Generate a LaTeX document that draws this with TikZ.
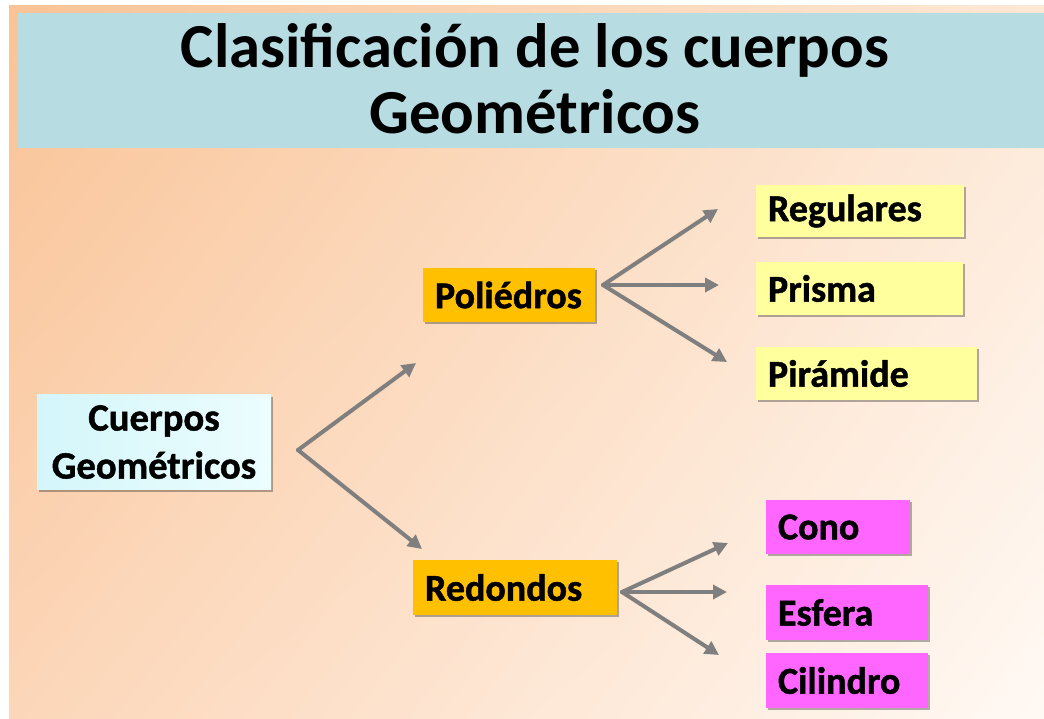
\documentclass[tikz,border=0pt]{standalone}
\usepackage{fontspec}
\setmainfont{Carlito}
\newfontfamily\boxfont{Carlito}[BoldFeatures={FakeBold=1.2}]
\usetikzlibrary{arrows.meta,shadows,shadings}
\definecolor{bandblue}{RGB}{183,221,226}
\definecolor{bgA}{RGB}{249,195,150}
\definecolor{bgB}{RGB}{253,232,214}
\definecolor{bgC}{RGB}{252,214,184}
\definecolor{bgD}{RGB}{255,249,244}
\definecolor{gold}{RGB}{255,192,0}
\definecolor{paleyellow}{RGB}{255,255,158}
\definecolor{pinkbox}{RGB}{255,102,255}
\definecolor{cyanA}{RGB}{212,246,250}
\definecolor{cyanB}{RGB}{236,253,254}
\definecolor{arrgray}{RGB}{127,127,127}
\begin{document}
\begin{tikzpicture}[x=0.75pt,y=-0.75pt,
  box/.style={inner xsep=9pt, inner ysep=0pt, align=left,
    font=\boxfont\fontsize{28.5}{34}\selectfont\bfseries,
    drop shadow={shadow xshift=1.2pt, shadow yshift=-1.5pt, opacity=0.3, fill=black}},
  goldbox/.style={box, fill=gold},
  yelbox/.style={box, fill=paleyellow},
  pinkstyle/.style={box, fill=pinkbox},
  titletext/.style={font=\fontsize{47}{56}\selectfont\bfseries, anchor=base, inner sep=0pt},
  arr/.style={draw=arrgray, line width=3pt, line cap=round,
    -{Triangle[length=10.5pt,width=10.5pt]}},
]
\useasboundingbox (0,0) rectangle (1044,718);
\fill[white] (0,0) rectangle (1044,718);
\shade[upper left=bgA, upper right=bgB, lower left=bgC, lower right=bgD]
  (9,5) rectangle (1044,718);
\fill[bandblue] (18,13) rectangle (1044,148);
\node[titletext] (titleA) at (535,67) {Clasificación de los cuerpos};
\node[titletext] (titleB) at (535,133) {Geométricos};

\node[box, align=center, left color=cyanA, right color=cyanB,
  text width=157.5pt, minimum height=71.25pt,
  font=\boxfont\fontsize{29}{36}\selectfont\bfseries] (cuerpos) at (154,442)
  {Cuerpos\\Geométricos};

\node[goldbox, text width=111pt, minimum height=40.5pt] (poli) at (509,295) {Poliédros};
\node[goldbox, text width=135pt, minimum height=41.25pt] (redo) at (515,587.5) {Redondos};

\node[yelbox, text width=138pt, minimum height=39pt] (regu) at (860,211) {Regulares};
\node[yelbox, text width=137.25pt, minimum height=39.75pt] (pris) at (859.5,288.5) {Prisma};
\node[yelbox, text width=147.75pt, minimum height=39.75pt] (pira) at (866.5,373.5) {Pirámide};

\node[pinkstyle, text width=90pt, minimum height=40.5pt] (cono) at (838,527) {Cono};
\node[pinkstyle, text width=103.5pt, minimum height=41.25pt] (esfe) at (847,612.5) {Esfera};
\node[pinkstyle, text width=103.5pt, minimum height=41.25pt] (cili) at (847,680.5) {Cilindro};

\coordinate (cv) at (298,450);
\coordinate (ct1) at (416,363);
\coordinate (ct2) at (422,549);
\coordinate (pv) at (603,285);
\coordinate (pt1) at (718,209);
\coordinate (pt2) at (719,285);
\coordinate (pt3) at (727,362);
\coordinate (rv) at (622,592);
\coordinate (rt1) at (728,543);
\coordinate (rt2) at (727,592);
\coordinate (rt3) at (719,655);

\draw[arr] (cv) -- (ct1);
\draw[arr] (cv) -- (ct2);
\draw[arr] (pv) -- (pt1);
\draw[arr] (pv) -- (pt2);
\draw[arr] (pv) -- (pt3);
\draw[arr] (rv) -- (rt1);
\draw[arr] (rv) -- (rt2);
\draw[arr] (rv) -- (rt3);
\end{tikzpicture}
\end{document}
